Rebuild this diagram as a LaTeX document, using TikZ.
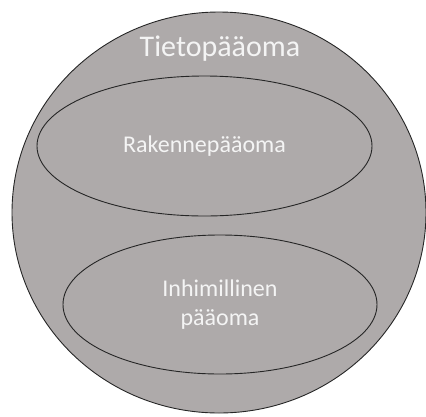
\documentclass[tikz,border=0pt]{standalone}
\usepackage{fontspec}
\setmainfont{Carlito}
\usepackage{xcolor}
\usepackage{tikz}
\usetikzlibrary{shapes.geometric}
\definecolor{CapGray}{HTML}{AEAAAA}
\definecolor{CapLine}{HTML}{262626}
\definecolor{CapText}{HTML}{F4F4F4}
\tikzset{
  capital/.style={ellipse, draw=CapLine, line width=0.9pt, fill=CapGray,
    inner sep=0pt, text=CapText, align=center},
  heading/.style={text=CapText, inner sep=0pt, font=\fontsize{30}{36}\selectfont},
  part/.style={capital, font=\fontsize{24}{29}\selectfont}
}
\begin{document}
\begin{tikzpicture}[x=1pt, y=-1pt]
  \useasboundingbox (0,0) rectangle (426,416);
  \node[capital, minimum width=414pt, minimum height=401pt] (whole) at (219,212.5) {};
  \node[heading, anchor=base] (title) at (220,56) {Tietopääoma};
  \node[part, minimum width=335pt, minimum height=140pt] (structure) at (204.5,146) {Rakennepääoma};
  \node[part, minimum width=314pt, minimum height=139pt] (human) at (220,304.5) {Inhimillinen\\pääoma};
\end{tikzpicture}
\end{document}
